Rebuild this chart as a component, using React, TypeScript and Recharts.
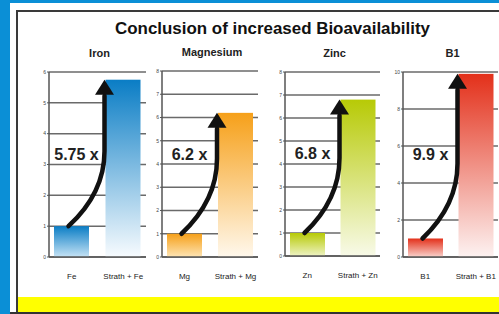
import React from 'react';
import { BarChart, Bar, XAxis, YAxis, CartesianGrid } from 'recharts';

const panelTitles = ['Iron', 'Magnesium', 'Zinc', 'B1'];
const baseNames = ['Fe', 'Mg', 'Zn', 'B1'];
const strathNames = ['Strath + Fe', 'Strath + Mg', 'Strath + Zn', 'Strath + B1'];
const baseValues = [1, 1, 1, 1];
const strathValues = [5.75, 6.2, 6.8, 9.9];
const axisMax = [6, 8, 8, 10];
const axisTicks = [
  [0, 1, 2, 3, 4, 5, 6],
  [0, 1, 2, 3, 4, 5, 6, 7, 8],
  [0, 1, 2, 3, 4, 5, 6, 7, 8],
  [0, 2, 4, 6, 8, 10],
];

// layout of each small chart (pixels)
const plotLeft = [49, 162, 285, 403];
const plotRight = [146, 258, 380, 498];
const plotTop = [72, 71, 72, 72];
const plotBottom = [259, 259, 258, 259];

const barColors = [
  { top: '#0a7dc5', baseEnd: '#c6e3f5', tallEnd: '#f7fbfe' },
  { top: '#f6a019', baseEnd: '#fde4b4', tallEnd: '#fff8ec' },
  { top: '#b7ca06', baseEnd: '#eef3c4', tallEnd: '#f8fae8' },
  { top: '#e3301a', baseEnd: '#f9d2cc', tallEnd: '#fdf2f1' },
];

const YW = 14;
const MT = 4;
const XH = 28;
const MR = 1;
const PAD = -3;

function makeShape(i: number) {
  const band = (plotRight[i] - plotLeft[i] - 2 * PAD) / 2;
  return (props: any) => {
    const { x, y, width, height, index, payload } = props;
    const rect = (
      <rect x={x} y={y} width={width} height={height} fill={`url(#grad${i}-${index})`} />
    );
    if (index === 0) return rect;
    const bottom = y + height;
    const perUnit = height / payload.value;
    const baseTop = bottom - perUnit * baseValues[i];
    const baseCx = x - band + width / 2;
    const sx = baseCx - 3;
    const sy = baseTop;
    const tx = x - 1;
    const headBase = y + 15;
    const d = `M${sx},${sy} C${sx + 0.6 * (tx - sx)},${sy - 20} ${tx},${sy - 45} ${tx},${sy - 75} L${tx},${headBase + 1}`;
    const label = `${strathValues[i] / baseValues[i]} x`;
    return (
      <g>
        {rect}
        <path d={d} fill="none" stroke="#111" strokeWidth={4.5} strokeLinecap="round" />
        <polygon points={`${tx},${y} ${tx - 9.5},${headBase} ${tx + 9.5},${headBase}`} fill="#111" />
        <text
          x={baseCx + 5}
          y={bottom - 103}
          textAnchor="middle"
          dominantBaseline="central"
          fontSize={16}
          fontWeight="bold"
          fill="#222"
        >
          {label}
        </text>
      </g>
    );
  };
}

function Panel({ i }: { i: number }) {
  const data = [
    { name: baseNames[i], value: baseValues[i] },
    { name: strathNames[i], value: strathValues[i] },
  ];
  const plotW = plotRight[i] - plotLeft[i];
  const plotH = plotBottom[i] - plotTop[i];
  const c = barColors[i];
  return (
    <div style={{ position: 'absolute', left: plotLeft[i] - YW, top: plotTop[i] - MT }}>
      <BarChart
        width={YW + plotW + MR}
        height={MT + plotH + XH}
        data={data}
        margin={{ top: MT, right: MR, left: 0, bottom: 0 }}
      >
        <defs>
          <linearGradient id={`grad${i}-0`} x1="0" y1="0" x2="0" y2="1">
            <stop offset="0%" stopColor={c.top} />
            <stop offset="100%" stopColor={c.baseEnd} />
          </linearGradient>
          <linearGradient id={`grad${i}-1`} x1="0" y1="0" x2="0" y2="1">
            <stop offset="0%" stopColor={c.top} />
            <stop offset="100%" stopColor={c.tallEnd} />
          </linearGradient>
        </defs>
        <CartesianGrid
          vertical={false}
          horizontal={{ stroke: '#6a6a6a', strokeWidth: 1.5 }}
          stroke="#6a6a6a"
          strokeWidth={1.5}
        />
        <XAxis
          dataKey="name"
          interval={0}
          tickLine={false}
          tickSize={0}
          tickMargin={16}
          padding={{ left: PAD, right: PAD }}
          axisLine={{ stroke: '#555', strokeWidth: 1.5 }}
          tick={{ fontSize: 8, fill: '#222' }}
        />
        <YAxis
          width={YW}
          domain={[0, axisMax[i]]}
          ticks={axisTicks[i]}
          interval={0}
          tickSize={2}
          tickMargin={1}
          axisLine={{ stroke: '#555', strokeWidth: 1.5 }}
          tickLine={{ stroke: '#555' }}
          tick={{ fontSize: 5, fill: '#444' }}
        />
        <Bar dataKey="value" barSize={35} isAnimationActive={false} shape={makeShape(i)} />
      </BarChart>
      <div
        style={{
          position: 'absolute',
          left: YW + 2,
          top: -21,
          width: plotW,
          textAlign: 'center',
          fontSize: 11,
          fontWeight: 'bold',
          color: '#222',
        }}
      >
        {panelTitles[i]}
      </div>
    </div>
  );
}

export default function App() {
  const blue = '#0b8fd6';
  return (
    <div
      style={{
        position: 'absolute',
        left: 0,
        top: 0,
        width: 499,
        height: 314,
        background: '#fff',
        overflow: 'hidden',
        fontFamily: '"Liberation Sans", Arial, sans-serif',
      }}
    >
      <div style={{ position: 'absolute', left: 0, top: 0, width: 10, height: 314, background: blue }} />
      <div style={{ position: 'absolute', left: 0, top: 0, width: 499, height: 3, background: blue }} />
      <div style={{ position: 'absolute', left: 16, top: 10, width: 483, height: 2, background: '#3a3a3a' }} />
      <div style={{ position: 'absolute', left: 16, top: 10, width: 2, height: 304, background: '#3a3a3a' }} />
      <div style={{ position: 'absolute', left: 18, top: 297, width: 481, height: 15, background: '#ffff00' }} />
      <div style={{ position: 'absolute', left: 10, top: 312, width: 489, height: 2, background: '#333' }} />
      <svg style={{ position: 'absolute', left: 0, top: 0 }} width={499} height={50}>
        <text
          x={115}
          y={34}
          fontSize={16.5}
          fontWeight="bold"
          fill="#111"
          textLength={315}
          lengthAdjust="spacingAndGlyphs"
        >
          Conclusion of increased Bioavailability
        </text>
      </svg>
      {panelTitles.map((_, i) => (
        <Panel key={i} i={i} />
      ))}
    </div>
  );
}
